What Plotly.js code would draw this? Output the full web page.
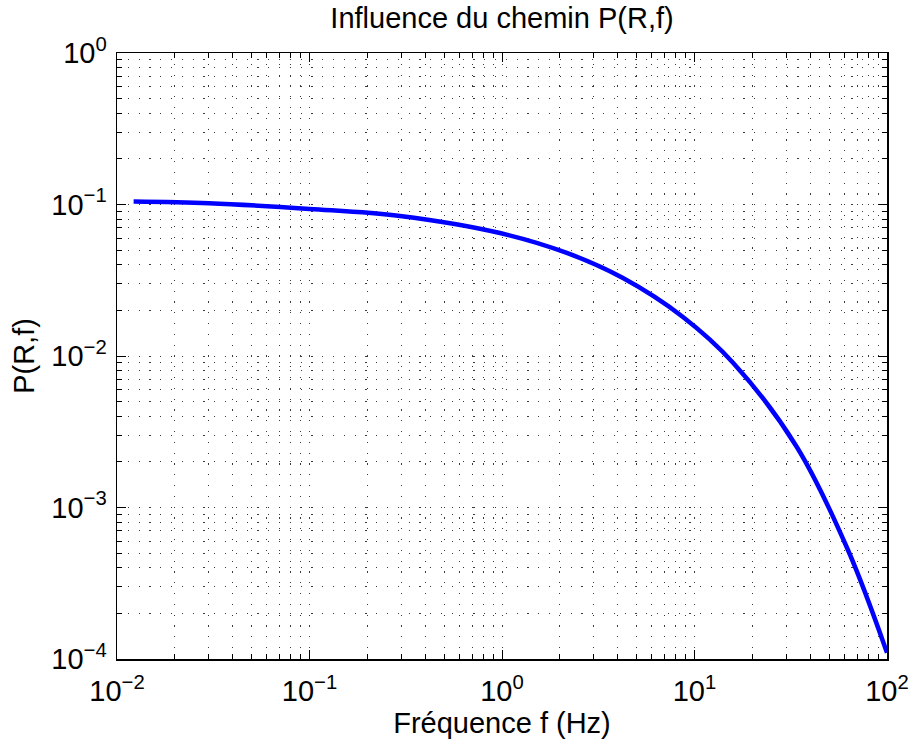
<!DOCTYPE html>
<html>
<head>
<meta charset="utf-8">
<script src="https://cdn.plot.ly/plotly-3.0.1.min.js"></script>
<style>html,body{margin:0;padding:0;background:#fff;}#chart{width:910px;height:746px;}</style>
</head>
<body>
<div id="chart"></div>
<script>
// Data
const freqHz = [0.0122, 0.03, 0.1, 0.295, 0.976, 2.17, 4.25, 8.71, 15.9, 34.0, 62.7, 100];
const pathP  = [0.1047, 0.1020, 0.0935, 0.0840, 0.0648, 0.0479, 0.0327, 0.0181, 0.0090, 0.00251, 0.000524, 0.00011];

const xTickVals = [0.01, 0.1, 1, 10, 100];
const xTickText = ['10<sup>\u22122</sup>', '10<sup>\u22121</sup>', '10<sup>0</sup>', '10<sup>1</sup>', '10<sup>2</sup>'];
const yTickVals = [0.0001, 0.001, 0.01, 0.1, 1];
const yTickText = ['10<sup>\u22124</sup>', '10<sup>\u22123</sup>', '10<sup>\u22122</sup>', '10<sup>\u22121</sup>', '10<sup>0</sup>'];

function minorVals(lo, hi) {
  const out = [];
  for (let e = lo; e < hi; e++) for (let d = 2; d <= 9; d++) out.push(d * Math.pow(10, e));
  return out;
}

const FONT = 'Liberation Sans, Arial, Helvetica, sans-serif';
const gridDash = '1.2px,9.6px';
const gridColor = '#3a3a3a';

const axisCommon = {
  type: 'log',
  showline: true, linecolor: '#000', linewidth: 1.5, mirror: 'ticks',
  ticks: 'inside', ticklen: 9, tickwidth: 1, tickcolor: '#000',
  showgrid: true, gridcolor: gridColor, gridwidth: 1, griddash: gridDash,
  zeroline: false,
  tickmode: 'array',
  tickfont: {family: FONT, size: 29, color: '#000'},
};

const layout = {
  width: 910, height: 746,
  margin: {l: 117, r: 23, t: 53, b: 87},
  paper_bgcolor: '#fff', plot_bgcolor: '#fff',
  showlegend: false,
  font: {family: FONT, color: '#000'},
  title: {text: 'Influence du chemin P(R,f)', font: {family: FONT, size: 29, color: '#000'},
          x: 0.5, xref: 'paper', xanchor: 'center', y: 1 - 18/746, yref: 'container', yanchor: 'middle'},
  xaxis: Object.assign({}, axisCommon, {
    range: [-2, 2],
    tickvals: xTickVals, ticktext: xTickText,
    ticklabelstandoff: 6,
    title: {text: 'Fréquence f (Hz)', font: {family: FONT, size: 29, color: '#000'}, standoff: 4},
    minor: {tickmode: 'array', tickvals: minorVals(-2, 2), ticks: 'inside', ticklen: 5, tickcolor: '#000',
            showgrid: true, gridcolor: gridColor, gridwidth: 1, griddash: gridDash}
  }),
  yaxis: Object.assign({}, axisCommon, {
    range: [-4, 0],
    tickvals: yTickVals, ticktext: yTickText,
    ticklabelstandoff: 3,
    title: {text: 'P(R,f)', font: {family: FONT, size: 29, color: '#000'}, standoff: 8},
    minor: {tickmode: 'array', tickvals: minorVals(-4, 0), ticks: 'inside', ticklen: 5, tickcolor: '#000',
            showgrid: true, gridcolor: gridColor, gridwidth: 1, griddash: gridDash}
  })
};

const trace = {
  x: freqHz, y: pathP, type: 'scatter', mode: 'lines',
  line: {color: '#0000ff', width: 4.5, shape: 'spline', smoothing: 1},
  hoverinfo: 'skip'
};

Plotly.newPlot('chart', [trace], layout, {staticPlot: true, displayModeBar: false});
</script>
</body>
</html>
